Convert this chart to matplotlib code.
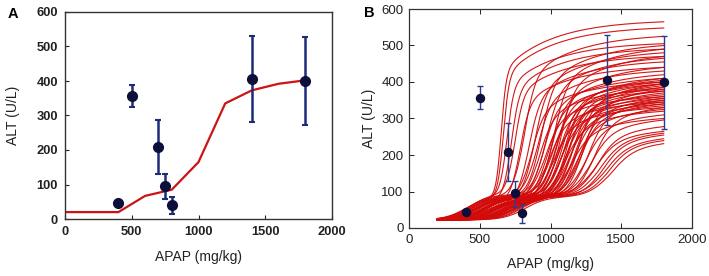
import numpy as np
import matplotlib
matplotlib.use("Agg")
import matplotlib.pyplot as plt

plt.rcParams['font.family'] = ['Liberation Sans', 'DejaVu Sans']

# ---- observed data (both panels) ----
dose_obs = [400, 500, 700, 750, 800, 1400, 1800]
alt_obs = [45, 357, 208, 95, 40, 405, 400]
err_lo = [0, 32, 78, 38, 25, 123, 128]
err_hi = [0, 31, 79, 35, 25, 125, 127]

# ---- panel A model curve ----
dose_fit = [0, 400, 600, 800, 1000, 1200, 1400, 1600, 1800]
alt_fit = [20, 20, 67, 85, 165, 335, 373, 392, 402]

# ---- panel B ensemble: per-curve parameters ----
# transition dose, final ALT at 1800, transition width
trans_dose = [650, 665, 690, 720, 745, 780, 810, 840, 860, 880, 900, 910, 925, 940,
              950, 960, 970, 980, 990, 1000, 1005, 1015, 1020, 1030, 1040, 1045, 1050,
              1060, 1065, 1070, 1080, 1085, 1090, 1100, 1105, 1110, 1120, 1125, 1130,
              1140, 1150, 1160, 1170, 1180, 1190, 1200, 1215, 1230, 1250, 1270, 1290,
              1300, 1310, 1330, 1350, 1370, 1390, 1410]
final_alt = [565, 548, 505, 490, 470, 440, 525, 455, 400, 480, 430, 380, 500, 410,
             360, 465, 395, 345, 420, 375, 330, 490, 400, 355, 440, 385, 340,
             470, 405, 365, 320, 395, 350, 410, 375, 335, 390, 360, 300,
             385, 345, 370, 325, 395, 355, 340, 380, 310, 350, 296, 330,
             265, 278, 260, 255, 245, 240, 232]
trans_width = [18, 20, 24, 28, 30, 34, 38, 40, 44, 42, 46, 50, 44, 48,
               52, 46, 50, 55, 48, 52, 58, 44, 50, 56, 48, 52, 60,
               46, 52, 56, 62, 50, 58, 48, 54, 60, 50, 56, 64,
               52, 58, 54, 62, 50, 58, 56, 54, 62, 58, 66, 60,
               70, 66, 72, 70, 74, 72, 76]
# first (low) plateau level and its onset dose
low_alt = [88, 85, 92, 80, 95, 75, 90, 70, 82, 78, 88, 72, 85, 76,
           80, 90, 74, 84, 70, 86, 78, 92, 80, 75, 88, 82, 70,
           86, 77, 84, 72, 90, 80, 76, 85, 78, 88, 74, 82,
           80, 76, 86, 78, 84, 80, 88, 82, 86, 84, 88, 86,
           90, 88, 86, 84, 88, 86, 85]
low_onset = [420, 400, 440, 460, 430, 500, 450, 540, 480, 520, 470, 580, 440, 560,
             530, 460, 600, 510, 640, 480, 620, 420, 560, 660, 500, 600, 700,
             470, 620, 540, 720, 450, 650, 580, 520, 700, 560, 680, 610,
             590, 740, 530, 690, 490, 650, 560, 620, 700, 600, 760, 680,
             640, 720, 780, 700, 800, 740, 820]

fig = plt.figure(figsize=(7.09, 2.76), dpi=100)

navy = '#0b0f3a'
ebcol = '#1c2c78'

# ---------------- Panel A ----------------
axA = fig.add_axes([65/709, 1-219/276, (332-65)/709, (219-12)/276])
axA.plot(dose_fit, alt_fit, color='#cc1414', lw=1.6, zorder=2)
axA.errorbar(dose_obs, alt_obs, yerr=[err_lo, err_hi], fmt='o', color=navy,
             ecolor=ebcol, elinewidth=1.8, capsize=2.2, capthick=1.5,
             markersize=7.0, zorder=3)
axA.set_xlim(0, 2000)
axA.set_ylim(0, 600)
axA.set_xticks([0, 500, 1000, 1500, 2000])
axA.set_yticks([0, 100, 200, 300, 400, 500, 600])
axA.tick_params(direction='in', length=3, width=0.8, labelsize=9.3, pad=5,
                colors='#222222')
for lab in axA.get_xticklabels() + axA.get_yticklabels():
    lab.set_fontweight('bold')
for s in axA.spines.values():
    s.set_linewidth(1.0)
    s.set_color('#333333')
axA.set_xlabel('APAP (mg/kg)', fontsize=10, labelpad=9, color='#222222')
axA.set_ylabel('ALT (U/L)', fontsize=10, labelpad=12, color='#222222')
fig.text(8/709, 1-14/276, 'A', fontsize=10.5, fontweight='bold', va='center', ha='left')

# ---------------- Panel B ----------------
axB = fig.add_axes([409/709, 1-228/276, (692-409)/709, (228-9)/276])
x = np.linspace(200, 1800, 500)
a = 0.7
tau = 350.0
for c2, top, w2, low, c1 in zip(trans_dose, final_alt, trans_width, low_alt, low_onset):
    s1 = 1/(1+np.exp(-(x-c1)/75.0))
    s2 = 1/(1+np.exp(-(x-c2)/w2))
    inner = a + (1-a)*(1-np.exp(-np.clip(x-c2, 0, None)/tau))
    norm = a + (1-a)*(1-np.exp(-(1800-c2)/tau))
    y = 22 + (low-22)*s1 + (top-low)*s2*inner/norm
    axB.plot(x, y, color='#d20a0a', lw=0.8, alpha=0.95, zorder=2)
axB.errorbar(dose_obs, alt_obs, yerr=[err_lo, err_hi], fmt='o', color=navy,
             ecolor='#2a3c90', elinewidth=1.0, capsize=2.2, capthick=1.0,
             markersize=5.8, zorder=3)
axB.set_xlim(0, 2000)
axB.set_ylim(0, 600)
axB.set_xticks([0, 500, 1000, 1500, 2000])
axB.set_yticks([0, 100, 200, 300, 400, 500, 600])
axB.tick_params(direction='in', length=3.5, width=0.7, labelsize=9.5, pad=4,
                top=True, right=True, colors='#222222')
for s in axB.spines.values():
    s.set_linewidth(0.9)
    s.set_color('#333333')
axB.set_xlabel('APAP (mg/kg)', fontsize=10, labelpad=8, color='#222222')
axB.set_ylabel('ALT (U/L)', fontsize=10, labelpad=4, color='#222222')
fig.text(364/709, 1-13/276, 'B', fontsize=10.5, fontweight='bold', va='center', ha='left')

fig.savefig('out.png', dpi=100)
